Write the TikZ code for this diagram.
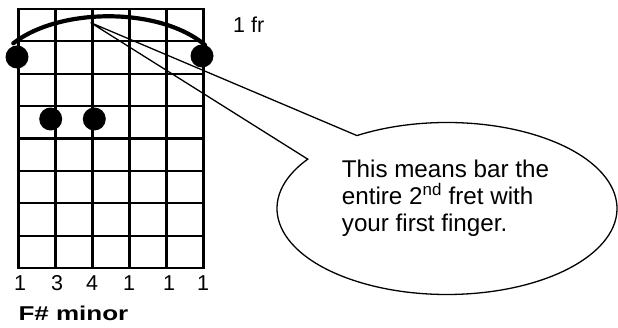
\documentclass[tikz,border=0pt]{standalone}
\usepackage{fontspec}
\setmainfont{Liberation Sans}
\begin{document}
\begin{tikzpicture}[x=1pt,y=1pt,
  gridline/.style={line width=2.2pt},
  fingerdot/.style={fill=black},
  barline/.style={line width=4.2pt, line cap=round},
  callout/.style={line width=1.3pt, line join=miter},
  lbl/.style={inner sep=0pt, font=\fontsize{21.5}{26}\selectfont}]
\useasboundingbox (0,0) rectangle (618,328);
% grid
\foreach \i in {0,...,5}
  \draw[gridline] (18.5+37*\i,319) -- (18.5+37*\i,59.8);
\foreach \j in {0,...,8}
  \draw[gridline] (17.4,319-32.4*\j) -- (204.6,319-32.4*\j);
% bar arc
\draw[barline] (13.3,284.7) .. controls (60,321) and (160,321) .. (205,283);
% dots
\fill[fingerdot] (17,271) circle (11.5);
\fill[fingerdot] (202,272) circle (11.5);
\fill[fingerdot] (50.7,209) circle (11.5);
\fill[fingerdot] (94.3,209) circle (11.5);
% callout
\coordinate (tip) at (90.7,305.3);
\coordinate (C) at (447,119.5);
\draw[callout] (tip) -- ([shift={(145:170 and 86)}]C) arc[start angle=145, end angle=482, x radius=170, y radius=86] -- cycle;
\node[lbl, anchor=base west, align=left, font=\fontsize{24.2}{27.2}\selectfont] (txt) at (341.7,96.3)
  {This means bar the\\entire 2\textsuperscript{nd} fret with\\your first finger.};
% labels
\node[lbl, anchor=base west] (fr) at (233,295.7) {1 fr};
\node[lbl, anchor=base] (f1) at (20,37) {1};
\node[lbl, anchor=base] (f2) at (57,37) {3};
\node[lbl, anchor=base] (f3) at (92,37) {4};
\node[lbl, anchor=base] (f4) at (129,37) {1};
\node[lbl, anchor=base] (f5) at (169,37) {1};
\node[lbl, anchor=base] (f6) at (203,37) {1};
\node[lbl, anchor=base west, font=\bfseries\fontsize{20}{24}\selectfont] (name) at (18.3,7.5) {\scalebox{1.3}[1]{F\# minor}};
\end{tikzpicture}
\end{document}
